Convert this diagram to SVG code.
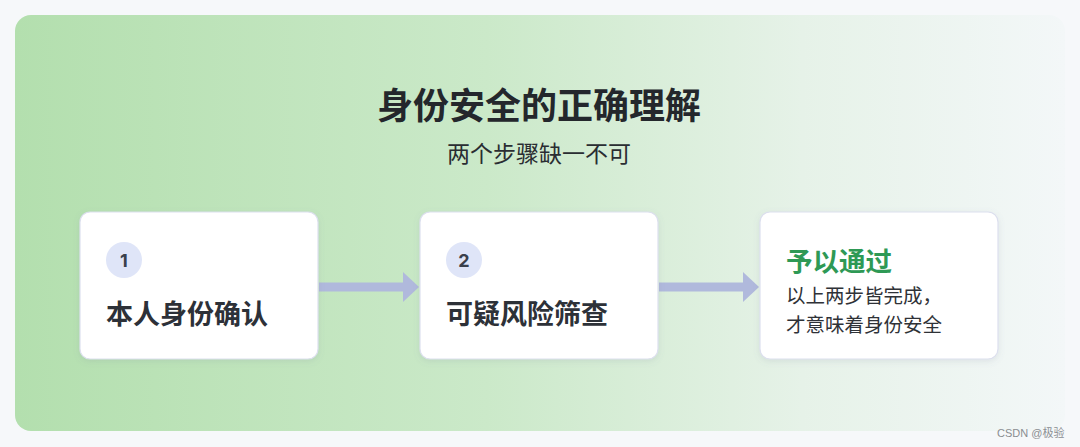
<svg xmlns="http://www.w3.org/2000/svg" width="1080" height="447" viewBox="0 0 1080 447">
<defs>
<linearGradient id="bg" x1="0" y1="0" x2="1" y2="0">
<stop offset="0" stop-color="#b3dfae"/>
<stop offset="0.45" stop-color="#cbe9c9"/>
<stop offset="0.75" stop-color="#e6f2e8"/>
<stop offset="1" stop-color="#f3f7f8"/>
</linearGradient>
<filter id="sh" x="-10%" y="-10%" width="120%" height="130%">
<feDropShadow dx="0" dy="2" stdDeviation="3" flood-color="#6a7a90" flood-opacity="0.15"/>
</filter>
<marker id="ah" viewBox="0 0 16 30" refX="0" refY="15" markerWidth="16" markerHeight="30" markerUnits="userSpaceOnUse" orient="auto">
<path d="M0,0 L16,15 L0,30 Z" fill="#b0b9dc"/>
</marker>
</defs>
<style>
.card{fill:#ffffff;stroke:#dcdfee;stroke-width:1.2;filter:url(#sh)}
.badge{fill:#dfe5f8}
.num{font-family:"Inter","Liberation Sans",sans-serif;font-weight:700;font-size:18px;fill:#3a404c;text-anchor:middle}
.step{font-family:"Noto Sans CJK SC",sans-serif;font-weight:700;font-size:27px;fill:#2d3138}
.ok{font-family:"Noto Sans CJK SC",sans-serif;font-weight:700;font-size:26.5px;fill:#2e9955}
.body{font-family:"Noto Sans CJK SC",sans-serif;font-size:19.5px;fill:#2f3237}
.title{font-family:"Noto Sans CJK SC",sans-serif;font-weight:700;font-size:36px;fill:#24272c;text-anchor:middle}
.sub{font-family:"Noto Sans CJK SC",sans-serif;font-size:23px;fill:#2a2d32;text-anchor:middle}
.wm{font-family:"Liberation Sans","Noto Sans CJK SC",sans-serif;font-size:11px;fill:#8a8d91}
.conn{stroke:#b0b9dc;stroke-width:9;fill:none}
</style>
<rect width="1080" height="447" fill="#f6f8fa"/>
<rect x="15" y="15" width="1050" height="416" rx="16" fill="url(#bg)"/>
<g id="header">
<text class="title" x="539" y="119">身份安全的正确理解</text>
<text class="sub" x="539" y="162">两个步骤缺一不可</text>
</g>
<g id="connectors">
<line class="conn" x1="319" y1="287" x2="403" y2="287" marker-end="url(#ah)"/>
<line class="conn" x1="659" y1="287" x2="743" y2="287" marker-end="url(#ah)"/>
</g>
<g id="step1">
<rect class="card" x="80" y="212" width="238" height="147" rx="10"/>
<circle class="badge" cx="124" cy="260" r="18"/>
<text class="num" x="124" y="266.5">1</text>
<text class="step" x="106" y="324">本人身份确认</text>
</g>
<g id="step2">
<rect class="card" x="420" y="212" width="238" height="147" rx="10"/>
<circle class="badge" cx="464" cy="260" r="18"/>
<text class="num" x="464" y="266.5">2</text>
<text class="step" x="446" y="324">可疑风险筛查</text>
</g>
<g id="result">
<rect class="card" x="760" y="212" width="238" height="147" rx="10"/>
<text class="ok" x="786" y="271">予以通过</text>
<text class="body" x="786" y="303">以上两步皆完成，</text>
<text class="body" x="786" y="331.5">才意味着身份安全</text>
</g>
<text class="wm" x="997" y="437">CSDN @极验</text>
</svg>
